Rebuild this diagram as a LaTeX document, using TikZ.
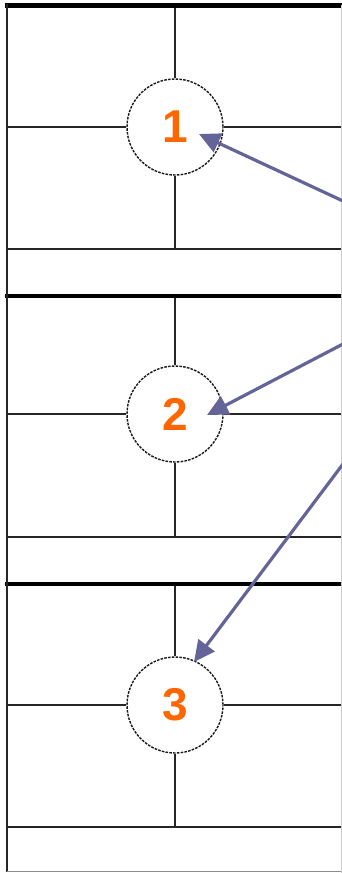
\documentclass[tikz,border=0pt]{standalone}
\usepackage{fontspec}
\setmainfont{Liberation Sans}
\usetikzlibrary{arrows.meta}
\definecolor{numorange}{RGB}{255,102,0}
\definecolor{arrowblue}{RGB}{100,100,152}
\tikzset{
  thin line/.style={line width=2.1pt, black!85},
  thick line/.style={line width=4.5pt, black},
  ring/.style={circle, draw=black!90, line width=1.4pt, dash pattern=on 2.6pt off 1.2pt,
    minimum size=96pt, inner sep=0pt, fill=white,
    font=\fontsize{46}{46}\selectfont\bfseries, text=numorange},
  pointer/.style={draw=arrowblue, line width=3.2pt,
    -{Triangle[length=21pt,width=20pt]}, shorten >=0pt}
}
\begin{document}
\begin{tikzpicture}[x=1pt,y=-1pt]
\useasboundingbox (0,0) rectangle (342,873);
\fill[white] (0,0) rectangle (342,873);
% sections
\foreach \t/\c/\b/\n in {5/127/249/1, 296/414/537/2, 584/705/827/3}{
  \node[ring] (c\n) at (175,\c) {\n};
  \draw[thin line] (175,\t) -- (c\n.north);
  \draw[thin line] (c\n.south) -- (175,\b);
  \draw[thin line] (7,\c) -- (c\n.west);
  \draw[thin line] (c\n.east) -- (342,\c);
  \draw[thin line] (7,\b) -- (342,\b);
}
% separators and borders
\draw[thick line] (5,5.5) -- (342,5.5);
\draw[thick line] (5,296) -- (342,296);
\draw[thick line] (5,584) -- (342,584);
\draw[line width=2.2pt, black!85] (7,4) -- (7,872);
\draw[line width=1.2pt, black!45] (7,871.5) -- (342,871.5);
\draw[line width=1pt, black!20] (341.5,5) -- (341.5,873);
% arrows
\coordinate (a1) at (343,201);
\coordinate (a2) at (343,344);
\coordinate (a3) at (343,464);
\coordinate (t1) at (199,134);
\coordinate (t2) at (207,415);
\coordinate (t3) at (194,662);
\draw[pointer] (a1) -- (t1);
\draw[pointer] (a2) -- (t2);
\draw[pointer] (a3) -- (t3);
\end{tikzpicture}
\end{document}
